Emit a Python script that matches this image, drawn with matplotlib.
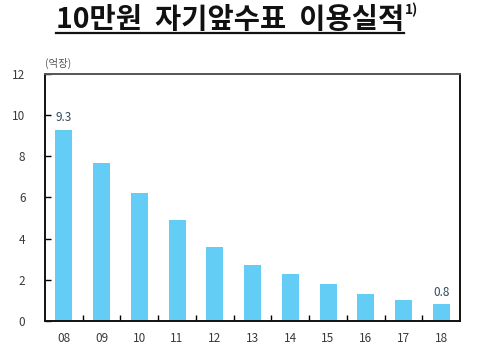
import numpy as np
import matplotlib
matplotlib.use("Agg")
import matplotlib.pyplot as plt
from matplotlib.lines import Line2D

plt.rcParams["font.family"] = ["Noto Sans CJK KR", "DejaVu Sans"]

# data
years = ["08", "09", "10", "11", "12", "13", "14", "15", "16", "17", "18"]
volumes = [9.3, 7.7, 6.2, 4.9, 3.6, 2.7, 2.3, 1.8, 1.3, 1.0, 0.8]
labeled = {0: "9.3", 10: "0.8"}
y_ticks = [0, 2, 4, 6, 8, 10, 12]

bar_color = "#63CDF6"
text_color = "#3a3a3a"

fig = plt.figure(figsize=(4.88, 3.63), dpi=100)
ax = fig.add_axes([0.092, 0.116, 0.851, 0.68])

x = np.arange(len(years))
ax.bar(x, volumes, width=0.45, color=bar_color, zorder=2)

for i, lab in labeled.items():
    ax.text(x[i], volumes[i] + 0.25, lab, ha="center", va="bottom",
            fontsize=8.5, color="#2f4a5e")

ax.set_xlim(-0.5, len(years) - 0.5)
ax.set_ylim(0, 12)

ax.set_yticks(y_ticks)
ax.set_yticklabels([str(t) for t in y_ticks], fontsize=8.5, color=text_color)
ax.tick_params(axis="y", direction="in", length=4, width=1, pad=14)

# x ticks sit between the bars, labels under the bars
ax.set_xticks(x[:-1] + 0.5)
ax.set_xticklabels([])
ax.set_xticks(x, minor=True)
ax.set_xticklabels(years, minor=True, fontsize=8.5, color=text_color)
ax.tick_params(axis="x", which="major", direction="in", length=4, width=1)
ax.tick_params(axis="x", which="minor", length=0, pad=8)

for side in ["left", "bottom", "right", "top"]:
    ax.spines[side].set_linewidth(1.4)
    ax.spines[side].set_color("#111111")
ax.spines["top"].set_color("#555555")

fig.text(0.092, 0.81, "(억장)", fontsize=7.5, color="#555555",
         ha="left", va="bottom")

title = fig.text(0.471, 0.945, "10만원  자기앞수표  이용실적", fontsize=20.5,
                 fontweight="bold", ha="center", va="center", color="#111111")
fig.canvas.draw()
bb = title.get_window_extent().transformed(fig.transFigure.inverted())
fig.text(bb.x1 + 0.002, bb.y1 - 0.012, "1)", fontsize=10, fontweight="bold",
         ha="left", va="center", color="#111111")
fig.add_artist(Line2D([bb.x0, bb.x1], [bb.y0 + 0.004, bb.y0 + 0.004],
                      transform=fig.transFigure, color="#111111", linewidth=1.6))

fig.savefig("out.png", dpi=100)
